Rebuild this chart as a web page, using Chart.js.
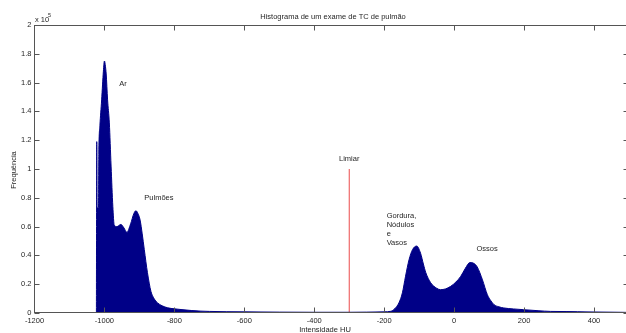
<!DOCTYPE html>
<html lang="pt">
<head>
    <meta charset="UTF-8">
    <title>Histograma TC</title>
    <script src="https://cdn.jsdelivr.net/npm/chart.js"></script>
    <style>
        html, body { margin: 0; padding: 0; background: #fff; overflow: hidden; }
        #wrap { width: 626px; height: 333px; overflow: hidden; }
    </style>
</head>
<body>
    <div id="wrap">
        <canvas id="histChart" width="632" height="333"></canvas>
    </div>

    <script>
        // Histogram of HU values (frequency in units of 10^5)
        const intensidadeHU = [
            -1023, -1022, -1021, -1017, -1016, -1013, -1008, -1003, -1000, -997,
            -995, -991, -986, -981, -976, -972, -964, -953, -944, -936,
            -925, -916, -910, -904, -898, -892, -886, -877, -867, -858,
            -848, -835, -819, -800, -781, -750, -724, -700, -650, -600,
            -500, -400, -300, -250, -200, -181, -170, -158, -148, -139,
            -129, -119, -107, -96, -88, -81, -67, -50, -39, -25,
            -10, 5, 19, 32, 45, 56, 66, 81, 95, 105,
            114, 128, 142, 170, 199, 240, 276, 320, 352, 400,
            475, 500
        ];
        const frequencia = [
            0, 1.19, 0.73, 0.73, 1.10, 1.30, 1.48, 1.68, 1.75, 1.71,
            1.66, 1.48, 1.32, 1.02, 0.74, 0.61, 0.60, 0.615, 0.59, 0.56,
            0.62, 0.69, 0.71, 0.69, 0.645, 0.55, 0.44, 0.28, 0.15, 0.10,
            0.07, 0.05, 0.036, 0.029, 0.024, 0.017, 0.013, 0.011, 0.009, 0.008,
            0.006, 0.005, 0.005, 0.006, 0.008, 0.012, 0.03, 0.07, 0.14, 0.255,
            0.37, 0.44, 0.465, 0.415, 0.34, 0.28, 0.21, 0.172, 0.162, 0.167,
            0.185, 0.215, 0.255, 0.31, 0.35, 0.345, 0.32, 0.23, 0.127, 0.085,
            0.058, 0.043, 0.035, 0.028, 0.023, 0.016, 0.011, 0.010, 0.009, 0.007,
            0.005, 0.004
        ];

        // threshold marker
        const limiarHU = -300;
        const limiarAltura = 1.0;

        // text notes placed in data units
        const notas = [
            { texto: "Ar", x: -958, y: 1.593, align: "left" },
            { texto: "Pulmões", x: -886, y: 0.80, align: "left" },
            { texto: "Limiar", x: -300, y: 1.069, align: "center" },
            { texto: "Gordura,", x: -193, y: 0.674, align: "left" },
            { texto: "Nódulos", x: -193, y: 0.611, align: "left" },
            { texto: "e", x: -193, y: 0.549, align: "left" },
            { texto: "Vasos", x: -193, y: 0.489, align: "left" },
            { texto: "Ossos", x: 64, y: 0.443, align: "left" }
        ];

        const FONT = '"Liberation Sans", Arial, sans-serif';
        const TXT = '#262626';
        const AXIS = '#555';

        const pontos = intensidadeHU.map((hu, i) => ({ x: hu, y: frequencia[i] }));

        // box, inward ticks and all free text
        const matlabFrame = {
            id: 'matlabFrame',
            afterDatasetsDraw(chart) {
                const { ctx, chartArea: a, scales } = chart;
                const xs = scales.x, ys = scales.y;
                const L = Math.floor(a.left) + 0.5, R = Math.floor(a.right) - 0.5;
                const T = Math.round(a.top) + 0.5, B = Math.round(a.bottom) - 0.5;
                ctx.save();
                ctx.strokeStyle = AXIS;
                ctx.lineWidth = 1;
                ctx.strokeRect(L, T, R - L, B - T);
                ctx.beginPath();
                xs.ticks.forEach(t => {
                    const px = Math.floor(xs.getPixelForValue(t.value)) + 0.5;
                    ctx.moveTo(px, B); ctx.lineTo(px, B - 5);
                    ctx.moveTo(px, T); ctx.lineTo(px, T + 5);
                });
                ys.ticks.forEach(t => {
                    const py = Math.round(ys.getPixelForValue(t.value)) + 0.5;
                    ctx.moveTo(L, py); ctx.lineTo(L + 5, py);
                    ctx.moveTo(R, py); ctx.lineTo(R - 5, py);
                });
                ctx.stroke();

                ctx.fillStyle = TXT;
                ctx.textBaseline = 'middle';
                ctx.font = '7.5px ' + FONT;
                notas.forEach(n => {
                    ctx.textAlign = n.align;
                    ctx.fillText(n.texto, xs.getPixelForValue(n.x), ys.getPixelForValue(n.y));
                });

                // titles
                ctx.textAlign = 'center';
                ctx.fillText('Histograma de um exame de TC de pulmão', 333, 16.5);
                ctx.fillText('Intensidade HU', 325, 329.5);
                ctx.save();
                ctx.translate(13.5, 170);
                ctx.rotate(-Math.PI / 2);
                ctx.fillText('Frequência', 0, 0);
                ctx.restore();

                // exponent
                ctx.textAlign = 'left';
                ctx.fillText('x 10', 35, 19.5);
                ctx.font = '5.5px ' + FONT;
                ctx.fillText('5', 48, 15);
                ctx.restore();
            }
        };

        const ctx = document.getElementById('histChart').getContext('2d');
        new Chart(ctx, {
            type: 'line',
            data: {
                datasets: [
                    {
                        label: 'Frequência',
                        data: pontos,
                        fill: 'origin',
                        backgroundColor: 'rgb(0,0,135)',
                        borderColor: 'rgb(0,0,135)',
                        borderWidth: 1,
                        pointRadius: 0,
                        cubicInterpolationMode: 'monotone'
                    },
                    {
                        label: 'Limiar',
                        data: [{ x: limiarHU, y: 0 }, { x: limiarHU, y: limiarAltura }],
                        borderColor: 'rgb(235,75,75)',
                        borderWidth: 1,
                        pointRadius: 0,
                        fill: false
                    }
                ]
            },
            options: {
                responsive: false,
                animation: false,
                devicePixelRatio: 1,
                layout: { padding: { top: 25, right: 3, bottom: 0, left: 0.5 } },
                plugins: {
                    legend: { display: false },
                    tooltip: { enabled: false }
                },
                scales: {
                    x: {
                        type: 'linear',
                        min: -1200,
                        max: 500,
                        grid: { display: false, drawTicks: false },
                        border: { display: false },
                        ticks: {
                            stepSize: 200,
                            includeBounds: false,
                            maxRotation: 0,
                            autoSkip: false,
                            padding: 3,
                            color: TXT,
                            font: { family: FONT, size: 7.5 },
                            callback: v => String(v)
                        },
                        afterFit(s) { s.height = 20; }
                    },
                    y: {
                        min: 0,
                        max: 2,
                        grid: { display: false, drawTicks: false },
                        border: { display: false },
                        ticks: {
                            stepSize: 0.2,
                            padding: 3,
                            color: TXT,
                            font: { family: FONT, size: 7.5 },
                            callback: v => String(Number(v.toFixed(1)))
                        },
                        afterFit(s) { s.width = 34; }
                    }
                }
            },
            plugins: [matlabFrame]
        });
    </script>
</body>
</html>
